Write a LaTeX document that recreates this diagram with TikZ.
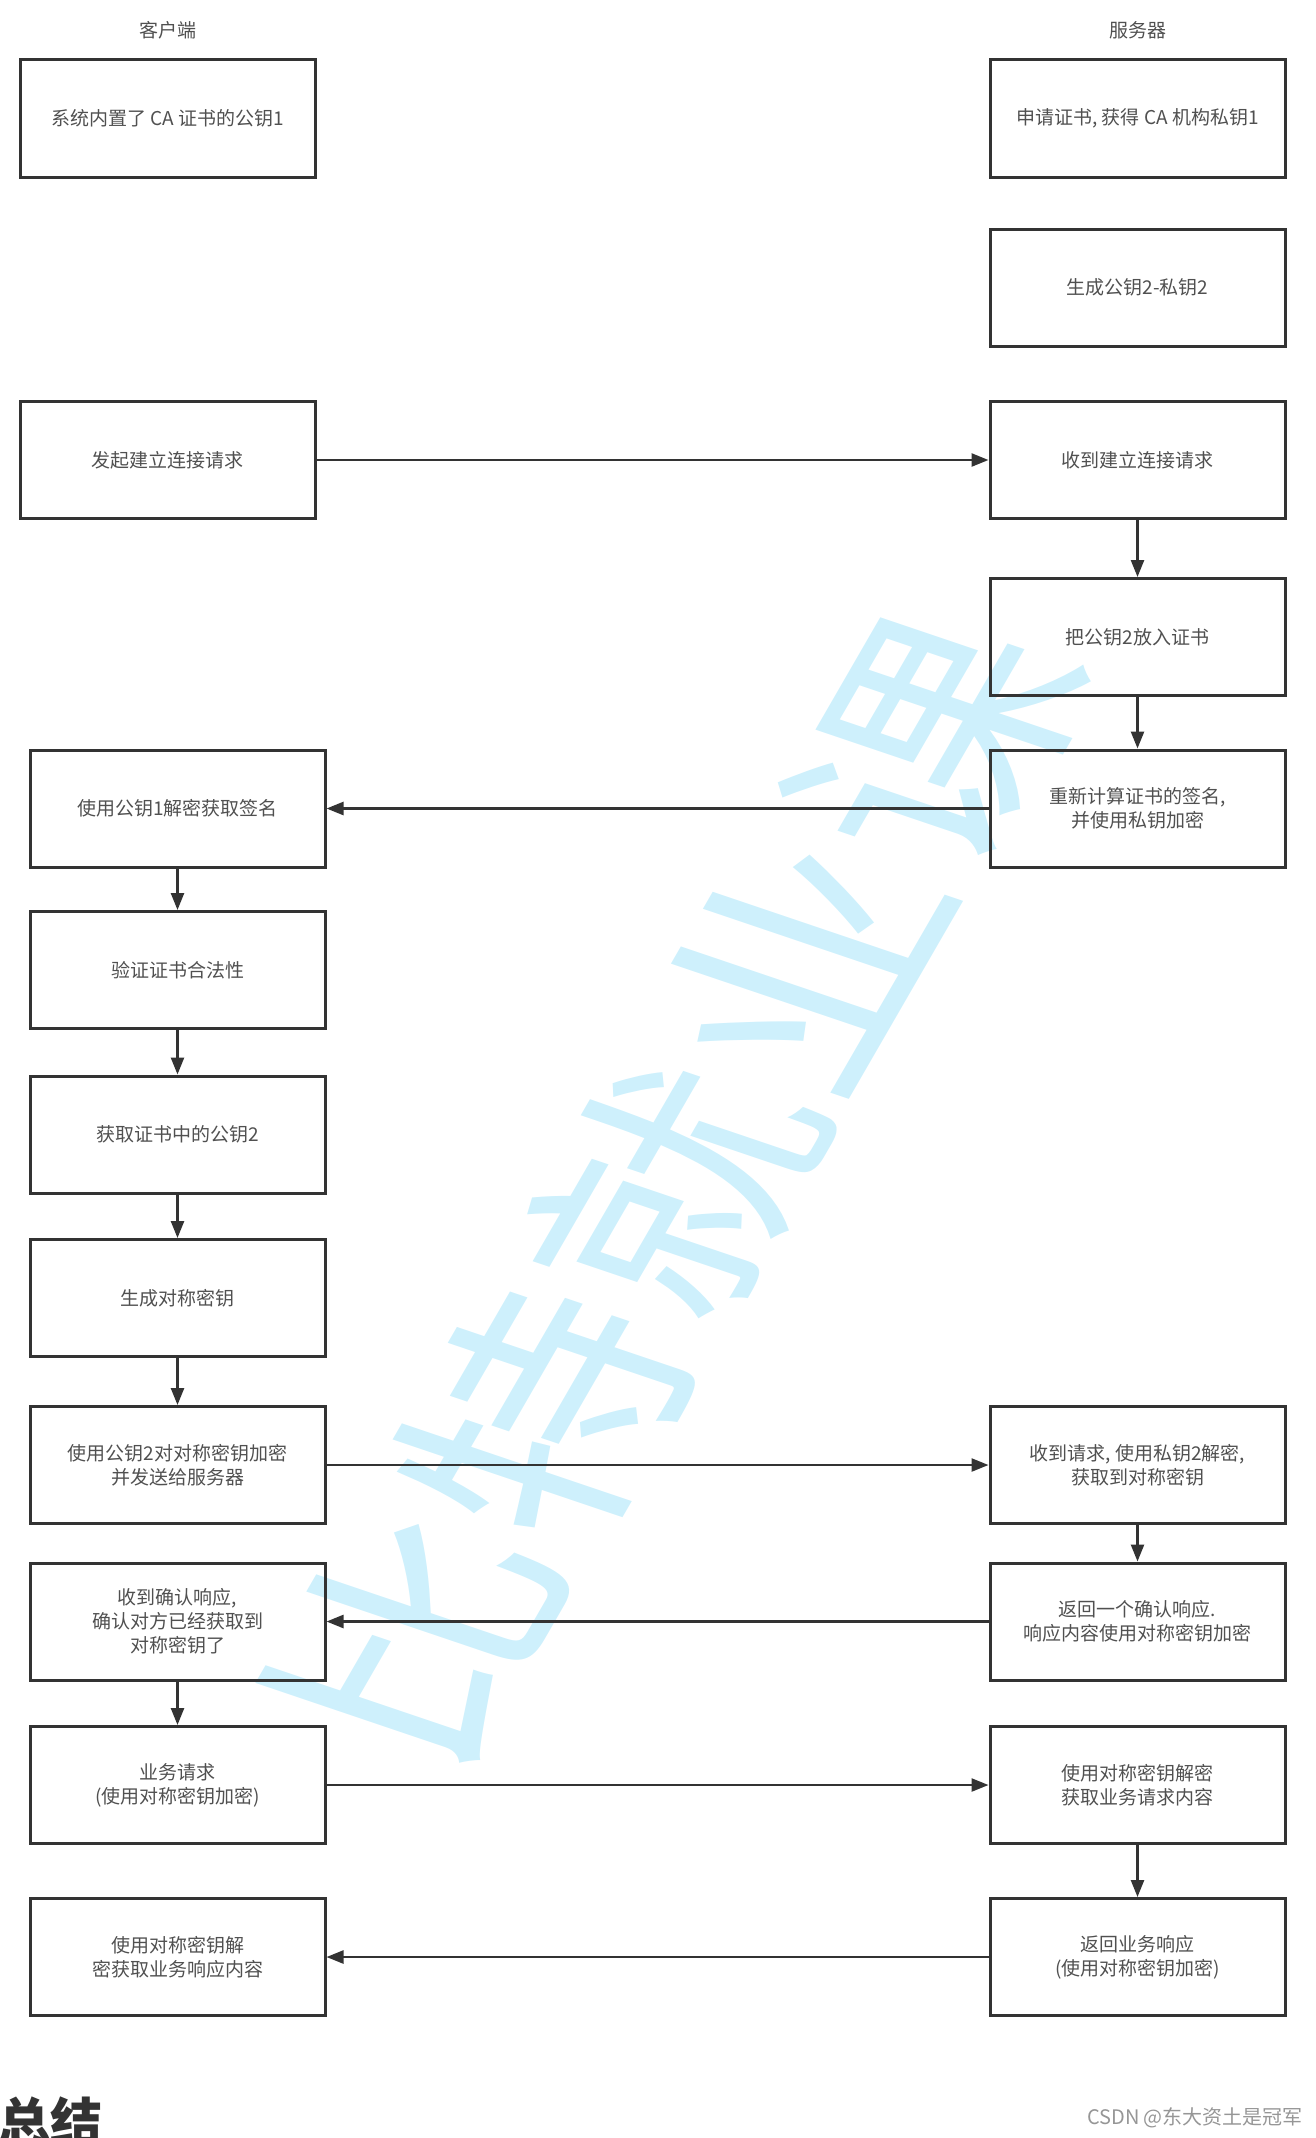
\documentclass[tikz,border=0pt]{standalone}
\usepackage{fontspec}
\newfontfamily\cjk{Noto Sans CJK SC}
\usetikzlibrary{arrows.meta}
\definecolor{wm}{RGB}{206,240,252}
\definecolor{ln}{RGB}{51,51,51}
\definecolor{tx}{RGB}{80,80,80}
\begin{document}
\begin{tikzpicture}[x=1pt,y=-1pt,
  box/.style={draw=ln, line width=3pt, minimum width=295pt, minimum height=117pt, inner sep=0pt, align=center, text=tx, font=\cjk\fontsize{19}{24}\selectfont},
  lbl/.style={text=tx, inner sep=0pt, font=\cjk\fontsize{19}{24}\selectfont},
  conn/.style={draw=ln, line width=2.5pt, -{Triangle[length=17pt,width=13pt]}}]
\useasboundingbox (0,0) rectangle (1315,2138);
% watermark
\node[text=wm, inner sep=0pt, font=\cjk\fontsize{259}{259}\selectfont, rotate=60, xslant=-0.2] (wmark) at (675,1190) {比特就业课};
% column titles
\node[lbl] (tc) at (168,30) {客户端};
\node[lbl] (ts) at (1138,30) {服务器};
% server column
\node[box] (s1) at (1137.5,118.5) {申请证书, 获得 CA 机构私钥1};
\node[box] (s2) at (1137.5,287.5) {生成公钥2-私钥2};
\node[box] (s3) at (1137.5,460) {收到建立连接请求};
\node[box] (s4) at (1137.5,637) {把公钥2放入证书};
\node[box] (s5) at (1137.5,808.5) {重新计算证书的签名,\\并使用私钥加密};
\node[box] (s6) at (1137.5,1465) {收到请求, 使用私钥2解密,\\获取到对称密钥};
\node[box] (s7) at (1137.5,1621.5) {返回一个确认响应.\\响应内容使用对称密钥加密};
\node[box] (s8) at (1137.5,1785) {使用对称密钥解密\\获取业务请求内容};
\node[box] (s9) at (1137.5,1957) {返回业务响应\\(使用对称密钥加密)};
% client column
\node[box] (a1) at (167.5,118.5) {系统内置了 CA 证书的公钥1};
\node[box] (a2) at (167.5,460) {发起建立连接请求};
\node[box] (a3) at (177.5,808.5) {使用公钥1解密获取签名};
\node[box] (a4) at (177.5,970) {验证证书合法性};
\node[box] (a5) at (177.5,1134.5) {获取证书中的公钥2};
\node[box] (a6) at (177.5,1298) {生成对称密钥};
\node[box] (a7) at (177.5,1465) {使用公钥2对对称密钥加密\\并发送给服务器};
\node[box] (a8) at (177.5,1621.5) {收到确认响应,\\确认对方已经获取到\\对称密钥了};
\node[box] (a9) at (177.5,1785) {业务请求\\(使用对称密钥加密)};
\node[box] (a10) at (177.5,1957) {使用对称密钥解\\密获取业务响应内容};
% connectors
\draw[conn] (a2) -- (s3);
\draw[conn] (s3) -- (s4);
\draw[conn] (s4) -- (s5);
\draw[conn] (s5) -- (a3);
\draw[conn] (a3) -- (a4);
\draw[conn] (a4) -- (a5);
\draw[conn] (a5) -- (a6);
\draw[conn] (a6) -- (a7);
\draw[conn] (a7) -- (s6);
\draw[conn] (s6) -- (s7);
\draw[conn] (s7) -- (a8);
\draw[conn] (a8) -- (a9);
\draw[conn] (a9) -- (s8);
\draw[conn] (s8) -- (s9);
\draw[conn] (s9) -- (a10);
% footer
\node[anchor=west, inner sep=0pt, text=ln, font=\cjk\bfseries\fontsize{52}{52}\selectfont] (sum) at (-2,2122) {总结};
\node[inner sep=0pt, text={rgb,255:red,150;green,150;blue,150}, font=\cjk\fontsize{20}{20}\selectfont] (csdn) at (1195,2118) {CSDN @东大资土是冠军};
\end{tikzpicture}
\end{document}
